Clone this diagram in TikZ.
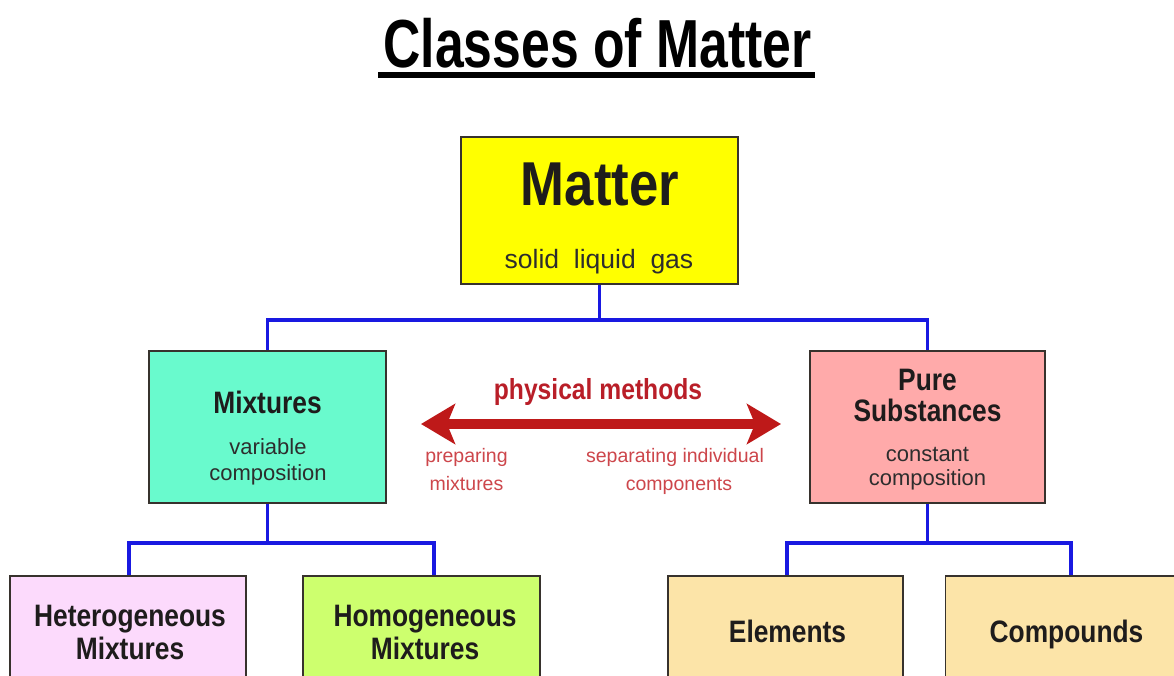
\documentclass[tikz,border=0pt]{standalone}
\usepackage{fontspec}
\setmainfont{Liberation Sans}
\newfontfamily\nsans[FakeStretch=0.85]{Liberation Sans}
\newfontfamily\tsans[FakeStretch=0.76]{Liberation Sans}
\usetikzlibrary{arrows.meta}
\definecolor{boxline}{RGB}{55,50,45}
\definecolor{conncol}{RGB}{25,25,225}
\definecolor{matterfill}{RGB}{255,255,0}
\definecolor{mixfill}{RGB}{105,250,205}
\definecolor{purefill}{RGB}{255,170,170}
\definecolor{hetfill}{RGB}{252,218,252}
\definecolor{homfill}{RGB}{205,255,110}
\definecolor{elfill}{RGB}{252,228,168}
\definecolor{arrowred}{RGB}{190,25,25}
\definecolor{labred}{RGB}{185,30,40}
\definecolor{smallred}{RGB}{205,70,75}
\definecolor{txtdark}{RGB}{30,28,28}
\definecolor{txtreg}{RGB}{45,45,45}
\tikzset{bigtip/.tip={Stealth[length=34pt,width=40pt,inset=8pt]}}
\begin{document}
\begin{tikzpicture}[x=1pt,y=-1pt,
  box/.style={draw=boxline, line width=1.8pt, inner sep=0pt},
  conn/.style={draw=conncol, line width=3.5pt, line join=miter},
  boldtxt/.style={anchor=base, inner sep=0pt, text=txtdark, font=\nsans\bfseries\fontsize{#1}{#1}\selectfont},
  regtxt/.style={anchor=base, inner sep=0pt, text=txtreg, font=\fontsize{#1}{#1}\selectfont},
  redtxt/.style={anchor=base, inner sep=0pt, text=smallred, font=\fontsize{#1}{#1}\selectfont}
]
\useasboundingbox (0,0) rectangle (1174,675);
\fill[white] (0,0) rectangle (1174,675);
\clip (0,0) rectangle (1174,675);

% title
\node[anchor=base, inner sep=0pt, font=\tsans\bfseries\fontsize{68}{68}\selectfont] (title) at (597.5,67) {Classes of Matter};
\draw[line width=6pt] (378,75) -- (815,75);

% boxes
\node[box, fill=matterfill, minimum width=277pt, minimum height=147pt] (matter) at (599.5,210.5) {};
\node[box, fill=mixfill, minimum width=237pt, minimum height=152pt] (mix) at (267.5,427) {};
\node[box, fill=purefill, minimum width=235pt, minimum height=152pt] (pure) at (927.5,427) {};
\node[box, fill=hetfill, minimum width=236pt, minimum height=110pt] (het) at (128,631) {};
\node[box, fill=homfill, minimum width=237pt, minimum height=110pt] (hom) at (421.5,631) {};
\node[box, fill=elfill, minimum width=235pt, minimum height=110pt] (el) at (785.5,631) {};
\node[box, fill=elfill, minimum width=244pt, minimum height=110pt] (comp) at (1067.5,631) {};

% connectors
\coordinate (bar1) at (599.5,320);
\coordinate (bar2) at (267.5,543);
\coordinate (bar3) at (927.5,543);
\draw[conn] (matter.south) -- (bar1);
\draw[conn] (mix.north) |- (bar1) -| (pure.north);
\draw[conn] (mix.south) -- (bar2);
\draw[conn] ([xshift=1pt]het.north) |- (bar2) -| ([xshift=12.5pt]hom.north);
\draw[conn] (pure.south) -- (bar3);
\draw[conn] ([xshift=1.5pt]el.north) |- (bar3) -| ([xshift=3.5pt]comp.north);

% Matter texts
\node[boldtxt=62] (mattert) at (600,205) {Matter};
\node[regtxt=26.5] (mattersub) at (599,268) {solid\ \ liquid\ \ gas};

% Mixtures texts
\node[boldtxt=31] (mixt) at (267.5,413) {Mixtures};
\node[regtxt=22] (mixs1) at (268,454) {variable};
\node[regtxt=22] (mixs2) at (268,480) {composition};

% Pure texts
\node[boldtxt=31] (puret1) at (927.5,390) {Pure};
\node[boldtxt=31] (puret2) at (927.5,421) {Substances};
\node[regtxt=22] (pures1) at (927.5,461) {constant};
\node[regtxt=22] (pures2) at (927.5,485) {composition};

% physical methods
\coordinate (aL) at (421,424);
\coordinate (aR) at (781,424);
\draw[draw=arrowred, line width=10pt, {bigtip}-{bigtip}] (aL) -- (aR);
\node[boldtxt=29, text=labred] (phys) at (598,399) {physical methods};
\node[redtxt=19.5] (prep1) at (466.5,462) {preparing};
\node[redtxt=19.5] (prep2) at (466.5,490) {mixtures};
\node[redtxt=19.5] (sep1) at (675,462) {separating individual};
\node[redtxt=19.5] (sep2) at (679,490) {components};

% bottom texts
\node[boldtxt=31] (hett1) at (130,626) {Heterogeneous};
\node[boldtxt=31] (hett2) at (130,659) {Mixtures};
\node[boldtxt=31] (homt1) at (425,626) {Homogeneous};
\node[boldtxt=31] (homt2) at (425,659) {Mixtures};
\node[boldtxt=31] (elt) at (787.5,642) {Elements};
\node[boldtxt=31] (compt) at (1066.5,642) {Compounds};
\end{tikzpicture}
\end{document}
